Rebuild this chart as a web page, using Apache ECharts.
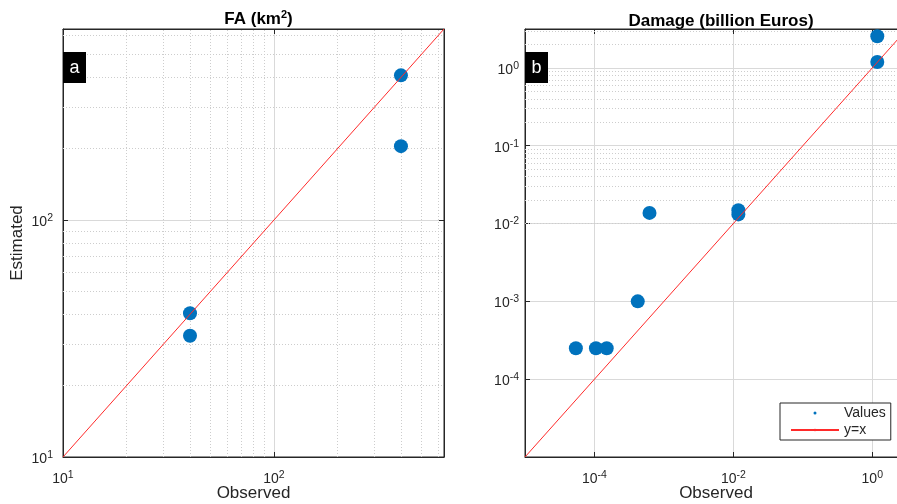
<!DOCTYPE html>
<html>
<head>
<meta charset="utf-8">
<script src="https://cdn.jsdelivr.net/npm/echarts@6/dist/echarts.min.js"></script>
<style>
  html, body { margin: 0; padding: 0; background: #fff; }
  #chart { width: 897px; height: 504px; }
</style>
</head>
<body>
<div id="chart"></div>
<script>
// panel a: FA (km2)
const faObserved = [40, 40, 400, 400];
const faEstimated = [40.4, 32.5, 408, 205];
const faRange = [10, 640];
// panel b: damage (billion Euros)
const dmgObserved = [5.4e-5, 1.05e-4, 1.5e-4, 4.2e-4, 6.2e-4, 0.0118, 0.0118, 1.18, 1.18];
const dmgEstimated = [2.5e-4, 2.5e-4, 2.5e-4, 1e-3, 0.0137, 0.0148, 0.0131, 2.55, 1.19];
const dmgRange = [1e-5, 3.16];
const dmgXTicks = [1e-4, 1e-2, 1];
const panelTitles = ['FA (km{sup|2})', 'Damage (billion Euros)'];
const panelTags = ['a', 'b'];
const legendNames = ['Values', 'y=x'];

const FONT = '"Liberation Sans", Arial, sans-serif';
const INK = '#262626';
const BLUE = '#0072bd';
const RED = '#ff2a2a';

const pairs = (xs, ys) => xs.map((x, i) => [x, ys[i]]);

// only label the decades, 10^n
function powLabel(v) {
  const lg = Math.log10(v);
  const e = Math.round(lg);
  if (Math.abs(lg - e) > 1e-6) return '';
  return '{base|10}{sup|' + e + '}';
}

// minor grid positions 2..9 x 10^n inside the range
function minorValues(range) {
  const out = [];
  const d0 = Math.floor(Math.log10(range[0]));
  const d1 = Math.ceil(Math.log10(range[1]));
  for (let d = d0; d <= d1; d++) {
    for (let m = 2; m <= 9; m++) {
      const v = m * Math.pow(10, d);
      if (v > range[0] * 1.0001 && v < range[1] * 0.9999) out.push(v);
    }
  }
  return out;
}

const labelRich = {
  base: { fontSize: 14, color: INK, fontFamily: FONT },
  sup: { fontSize: 10.5, color: INK, fontFamily: FONT, verticalAlign: 'top', padding: [0, 0, 8, 0] }
};

function logAxis(gridIndex, range, extra) {
  return Object.assign({
    type: 'log',
    logBase: 10,
    gridIndex: gridIndex,
    min: range[0],
    max: range[1],
    axisLine: { show: true, lineStyle: { color: INK, width: 1 } },
    axisTick: { show: true, inside: true, length: 5, lineStyle: { color: INK } },
    axisLabel: { formatter: powLabel, rich: labelRich, margin: 13, showMaxLabel: false },
    splitLine: { show: true, lineStyle: { color: '#d9d9d9', width: 1 } },
    minorTick: { show: false },
    nameLocation: 'middle',
    nameMoveOverlap: false,
    nameTextStyle: { fontFamily: FONT, fontSize: 17, color: INK }
  }, extra);
}

// mirrored box axis: ticks only, no labels or grid lines
function boxAxis(gridIndex, range, position, extra) {
  return logAxis(gridIndex, range, Object.assign({
    position: position,
    axisLabel: { show: false },
    splitLine: { show: false }
  }, extra));
}

function minorGridSeries(idx, xRange, yRange) {
  const lines = [];
  if (xRange) minorValues(xRange).forEach(v => lines.push({ xAxis: v }));
  minorValues(yRange).forEach(v => lines.push({ yAxis: v }));
  return {
    type: 'line',
    name: 'minor' + idx,
    xAxisIndex: idx,
    yAxisIndex: idx,
    data: [],
    silent: true,
    z: 1,
    markLine: {
      silent: true,
      symbol: ['none', 'none'],
      label: { show: false },
      z: 1,
      lineStyle: { type: [1, 2], color: '#cdcdcd', width: 1 },
      emphasis: { disabled: true },
      data: lines
    }
  };
}

function tagGraphic(left, text) {
  return {
    type: 'group',
    left: left,
    top: 52,
    z: 100,
    children: [
      { type: 'rect', z: 100, shape: { x: 0, y: 0, width: 23, height: 31 }, style: { fill: '#000' } },
      { type: 'text', z: 101, x: 11.5, y: 16, style: { text: text, fill: '#fff', font: '18px ' + FONT, textAlign: 'center', textVerticalAlign: 'middle' } }
    ]
  };
}

const yLabel = (margin, extra) => Object.assign({
  formatter: powLabel, rich: labelRich, margin: margin, showMaxLabel: false, padding: [4, 0, 0, 0]
}, extra);

const chart = echarts.init(document.getElementById('chart'));
const option = {
  animation: false,
  title: [
    { text: panelTitles[0], left: 253.5, textAlign: 'center', top: 4,
      textStyle: { fontFamily: FONT, fontSize: 17, fontWeight: 'bold', color: '#000',
        rich: { sup: { fontSize: 11, fontWeight: 'bold', verticalAlign: 'top', padding: [0, 0, 9, 0], color: '#000', fontFamily: FONT } } } },
    { text: panelTitles[1], left: 716, textAlign: 'center', top: 8,
      textStyle: { fontFamily: FONT, fontSize: 17, fontWeight: 'bold', color: '#000' } }
  ],
  grid: [
    { left: 63, top: 29, width: 381, height: 428, show: true, borderColor: INK, borderWidth: 1,
      containLabel: false, outerBoundsMode: 'none' },
    { left: 525, top: 29, width: 382, height: 428, show: true, borderColor: INK, borderWidth: 1,
      containLabel: false, outerBoundsMode: 'none' }
  ],
  xAxis: [
    logAxis(0, faRange, { name: 'Observed', nameGap: 28 }),
    logAxis(1, dmgRange, { name: 'Observed', nameGap: 28,
      axisTick: { show: true, inside: true, length: 5, lineStyle: { color: INK }, customValues: dmgXTicks },
      axisLabel: { formatter: powLabel, rich: labelRich, margin: 13, customValues: dmgXTicks } }),
    boxAxis(0, faRange, 'top'),
    boxAxis(1, dmgRange, 'top', {
      axisTick: { show: true, inside: true, length: 5, lineStyle: { color: INK }, customValues: dmgXTicks } })
  ],
  yAxis: [
    logAxis(0, faRange, { name: 'Estimated', nameGap: 37, axisLabel: yLabel(10) }),
    logAxis(1, dmgRange, { interval: 1, axisLabel: yLabel(6, { showMinLabel: false }) }),
    boxAxis(0, faRange, 'right')
  ],
  legend: {
    data: [{ name: legendNames[0], icon: 'circle' }, { name: legendNames[1] }],
    orient: 'vertical',
    left: 780,
    top: 403,
    itemWidth: 48,
    itemHeight: 3,
    itemGap: 3,
    padding: [3, 5, 3, 10],
    backgroundColor: '#fff',
    borderColor: INK,
    borderWidth: 1,
    borderRadius: 0,
    selectedMode: false,
    textStyle: { fontFamily: FONT, fontSize: 14, color: INK }
  },
  graphic: [tagGraphic(63, panelTags[0]), tagGraphic(525, panelTags[1])],
  series: [
    minorGridSeries(0, faRange, faRange),
    {
      type: 'scatter', name: legendNames[0], xAxisIndex: 0, yAxisIndex: 0,
      data: pairs(faObserved, faEstimated), symbolSize: 14, z: 2,
      itemStyle: { color: BLUE, opacity: 1 }
    },
    {
      type: 'line', name: legendNames[1], xAxisIndex: 0, yAxisIndex: 0,
      data: [[faRange[0], faRange[0]], [faRange[1], faRange[1]]],
      symbol: 'none', z: 3, lineStyle: { color: RED, width: 1 }, itemStyle: { color: RED }
    },
    minorGridSeries(1, null, dmgRange),
    {
      type: 'scatter', name: legendNames[0], xAxisIndex: 1, yAxisIndex: 1,
      data: pairs(dmgObserved, dmgEstimated), symbolSize: 14, z: 2,
      itemStyle: { color: BLUE, opacity: 1 }
    },
    {
      type: 'line', name: legendNames[1], xAxisIndex: 1, yAxisIndex: 1,
      data: [[dmgRange[0], dmgRange[0]], [dmgRange[1], dmgRange[1]]],
      symbol: 'none', z: 3, lineStyle: { color: RED, width: 1 }, itemStyle: { color: RED }
    }
  ]
};
chart.setOption(option);
</script>
</body>
</html>
